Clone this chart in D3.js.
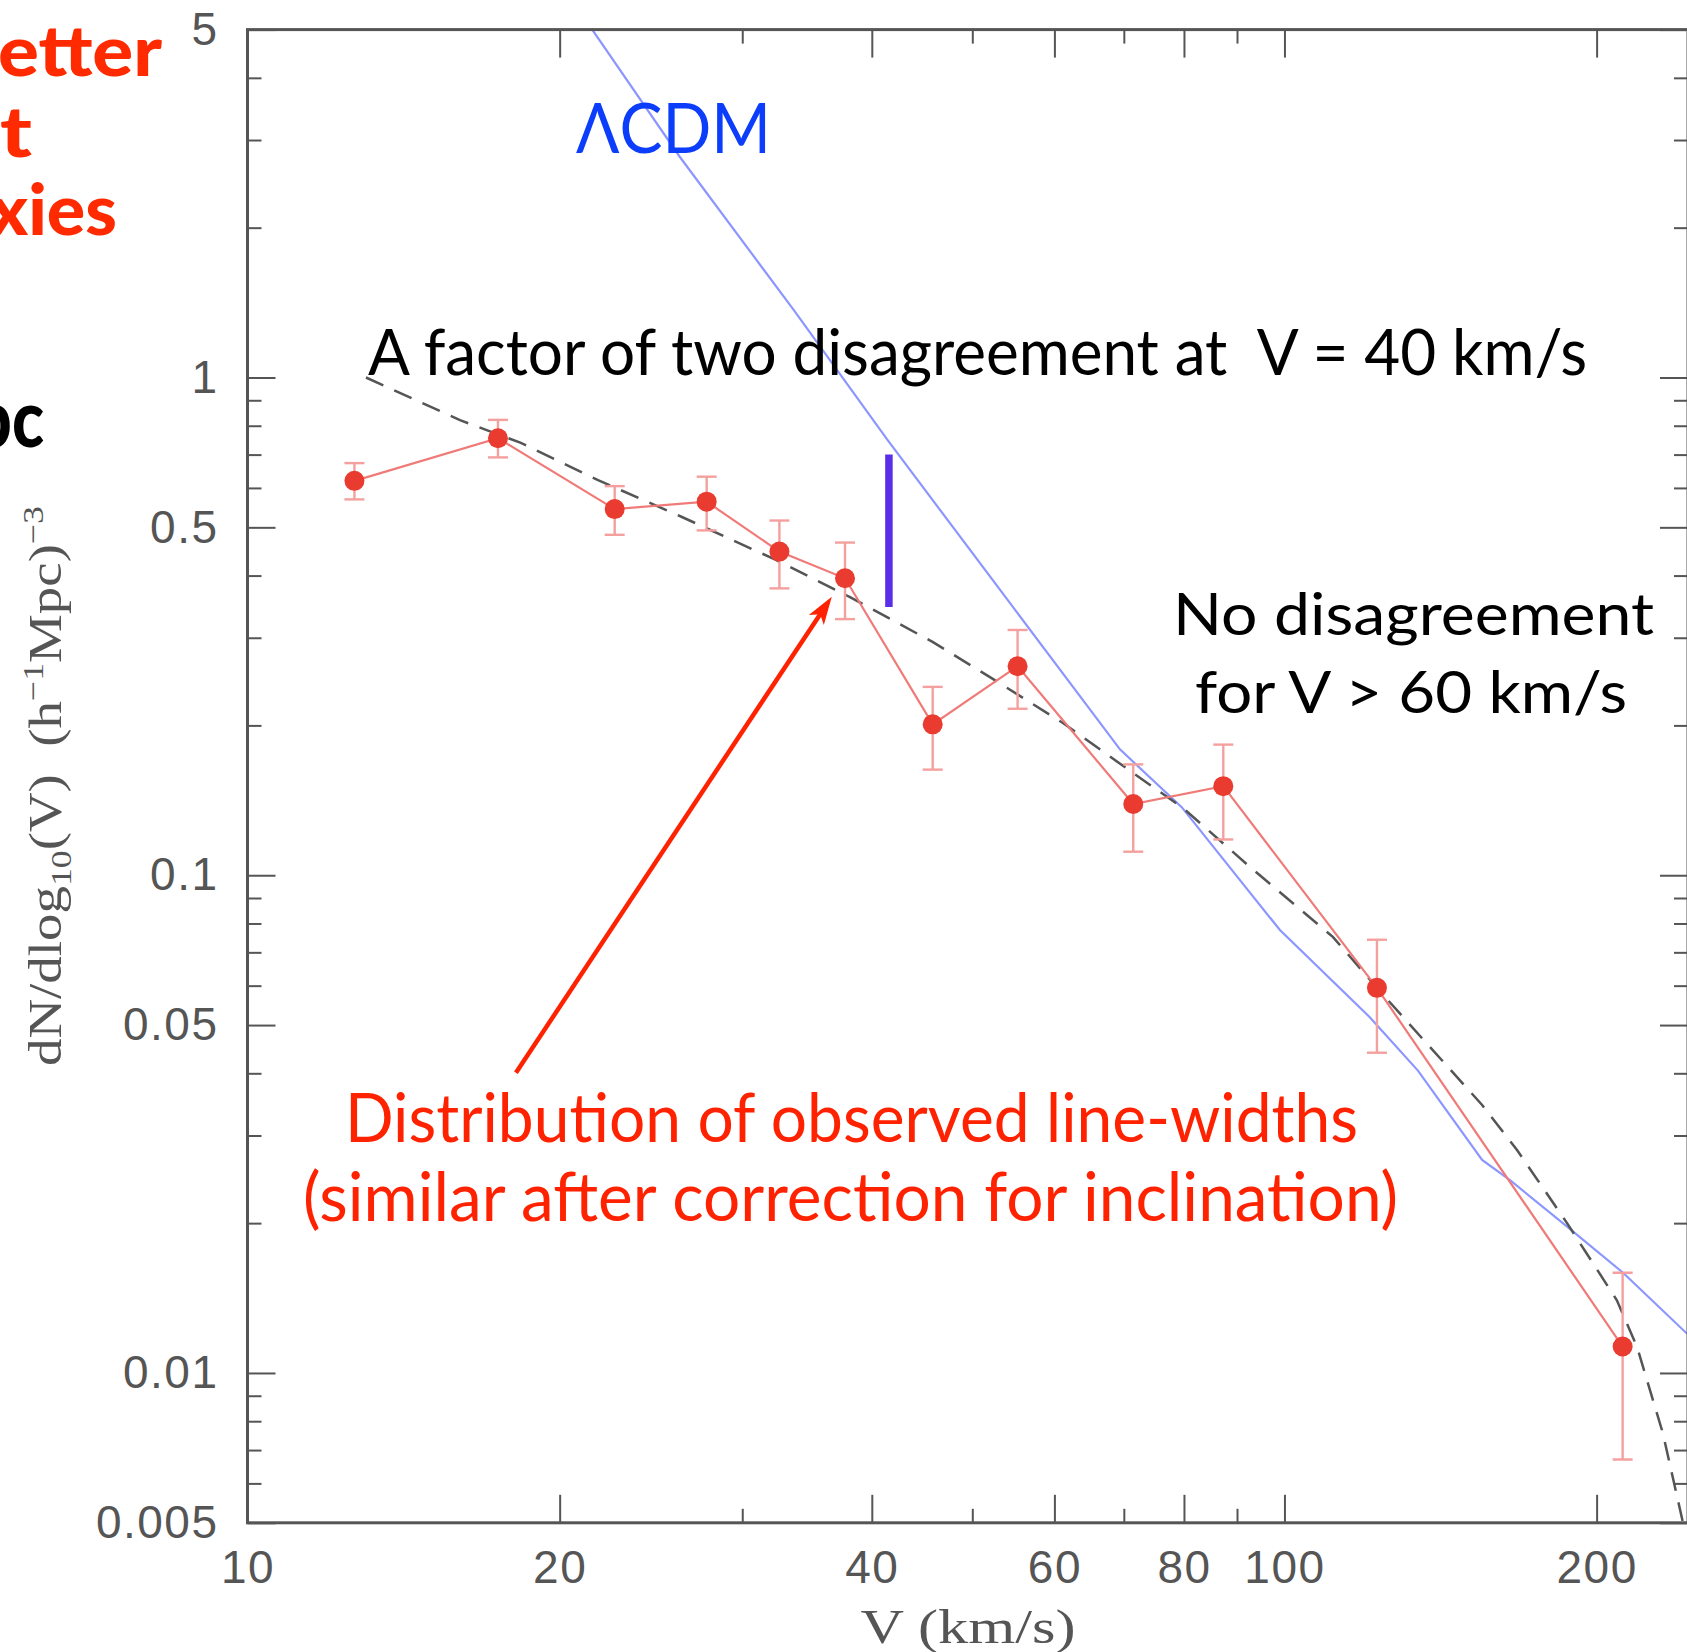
<!DOCTYPE html>
<html><head><meta charset="utf-8">
<script src="https://cdn.jsdelivr.net/npm/d3@7"></script>
<style>
html,body{margin:0;padding:0;background:#fff;overflow:hidden}
svg{display:block}
</style></head><body>
<svg id="c" width="1687" height="1652"></svg>
<script>
// ---- data ----
const vObs = [12.68, 17.44, 22.60, 27.72, 32.58, 37.69, 45.79, 55.29, 71.48, 87.30, 122.8, 211.9];
const nObs = [0.620, 0.755, 0.544, 0.563, 0.447, 0.395, 0.201, 0.263, 0.139, 0.151, 0.0594, 0.0113];
const nHi  = [0.673, 0.822, 0.605, 0.632, 0.516, 0.466, 0.239, 0.311, 0.167, 0.183, 0.0742, 0.0159];
const nLo  = [0.569, 0.691, 0.483, 0.493, 0.377, 0.327, 0.163, 0.216, 0.1115, 0.118, 0.044, 0.0067];

const vLCDM = [21.5, 26.1, 33.6, 41.4, 54.6, 69.4, 79.6, 99.0, 120.8, 134.5, 155.1, 165.0, 187.2, 212.1, 244.4];
const nLCDM = [5.0, 2.78, 1.37, 0.75, 0.348, 0.179, 0.137, 0.0776, 0.0519, 0.0405, 0.0268, 0.0244, 0.0197, 0.0159, 0.0120];

const vFit = [13.01, 16.03, 18.35, 21.78, 26.24, 32.33, 38.11, 45.82, 52.0, 61.15, 71.44, 79.82, 92.63, 111.4, 122.8, 138.1, 155.1, 167.6, 187.3, 209.2, 218.8, 231.7, 242.3];
const nFit = [1.00, 0.821, 0.739, 0.622, 0.5245, 0.430, 0.362, 0.294, 0.250, 0.2022, 0.1605, 0.1365, 0.1039, 0.0751, 0.0594, 0.0452, 0.03455, 0.02805, 0.0200, 0.0140, 0.01128, 0.00757, 0.005];

const barV = 41.55, barLo = 0.346, barHi = 0.70;   // "factor of two" marker
const arrowTail = [18.15, 0.0401], arrowTip = [36.6, 0.3628];

const xMajor = [10, 20, 40, 60, 80, 100, 200];
const xMinor = [30, 50, 70, 90];
const yMajor = [5, 1, 0.5, 0.1, 0.05, 0.01, 0.005];
const yMinor = [4, 3, 2, 0.9, 0.8, 0.7, 0.6, 0.4, 0.3, 0.2, 0.09, 0.08, 0.07, 0.06, 0.04, 0.03, 0.02, 0.009, 0.008, 0.007, 0.006];

// ---- drawing ----
const svg = d3.select('#c');
const x = d3.scaleLog().domain([10, 245]).range([247.5, 1688]);
const y = d3.scaleLog().domain([0.005, 5]).range([1522.8, 29.6]);
const X0 = x.range()[0], X1 = x.range()[1], Y0 = y.range()[1], Y1 = y.range()[0];
const AX = '#555';
const tickFont = "'Liberation Sans', Arial, sans-serif";
const serif = "'Liberation Serif', 'Times New Roman', serif";
const sans = "Lato, 'Noto Sans', sans-serif";

function styleAxis(g){
  g.select('.domain').remove();
  g.selectAll('.tick line').attr('stroke', AX).attr('stroke-width', 2);
  g.selectAll('.tick text').attr('fill', '#555').attr('font-family', tickFont).attr('font-size', 46)
    .attr('letter-spacing', 1.5);
}
const fmt = d3.format('~g');
// bottom
svg.append('g').attr('transform', `translate(0,${Y1})`)
  .call(d3.axisBottom(x).tickValues(xMajor).tickFormat(fmt).tickSize(-28).tickSizeOuter(0).tickPadding(28)).call(styleAxis);
svg.append('g').attr('transform', `translate(0,${Y1})`)
  .call(d3.axisBottom(x).tickValues(xMinor).tickFormat('').tickSize(-14).tickSizeOuter(0)).call(styleAxis);
// top
svg.append('g').attr('transform', `translate(0,${Y0})`)
  .call(d3.axisTop(x).tickValues(xMajor).tickFormat('').tickSize(-28).tickSizeOuter(0)).call(styleAxis);
svg.append('g').attr('transform', `translate(0,${Y0})`)
  .call(d3.axisTop(x).tickValues(xMinor).tickFormat('').tickSize(-14).tickSizeOuter(0)).call(styleAxis);
// left
svg.append('g').attr('transform', `translate(${X0},0)`)
  .call(d3.axisLeft(y).tickValues(yMajor).tickFormat(fmt).tickSize(-28).tickSizeOuter(0).tickPadding(29)).call(styleAxis);
svg.append('g').attr('transform', `translate(${X0},0)`)
  .call(d3.axisLeft(y).tickValues(yMinor).tickFormat('').tickSize(-14).tickSizeOuter(0)).call(styleAxis);
// right
svg.append('g').attr('transform', `translate(${X1},0)`)
  .call(d3.axisRight(y).tickValues(yMajor).tickFormat('').tickSize(-28).tickSizeOuter(0)).call(styleAxis);
svg.append('g').attr('transform', `translate(${X1},0)`)
  .call(d3.axisRight(y).tickValues(yMinor).tickFormat('').tickSize(-14).tickSizeOuter(0)).call(styleAxis);

// clip
svg.append('clipPath').attr('id', 'plot').append('rect')
  .attr('x', X0).attr('y', Y0).attr('width', X1 - X0).attr('height', Y1 - Y0);
const plot = svg.append('g').attr('clip-path', 'url(#plot)');
const line = d3.line().x(d => x(d[0])).y(d => y(d[1]));

// LCDM curve
plot.append('path').datum(d3.zip(vLCDM, nLCDM)).attr('d', line)
  .attr('fill', 'none').attr('stroke', '#8c96ff').attr('stroke-width', 2.2);
// dashed fit
plot.append('path').datum(d3.zip(vFit, nFit)).attr('d', line)
  .attr('fill', 'none').attr('stroke', '#555').attr('stroke-width', 2.5).attr('stroke-dasharray', '19,12');

// observed
const obs = vObs.map((v, i) => ({v, n: nObs[i], hi: nHi[i], lo: nLo[i]}));
plot.append('path').datum(obs.map(d => [d.v, d.n])).attr('d', line)
  .attr('fill', 'none').attr('stroke', '#f07a78').attr('stroke-width', 2.2);
const eb = plot.append('g').attr('stroke', '#f4a09e').attr('stroke-width', 2.4);
obs.forEach(d => {
  const cx = x(d.v);
  eb.append('line').attr('x1', cx).attr('x2', cx).attr('y1', y(d.hi)).attr('y2', y(d.lo));
  eb.append('line').attr('x1', cx - 10).attr('x2', cx + 10).attr('y1', y(d.hi)).attr('y2', y(d.hi));
  eb.append('line').attr('x1', cx - 10).attr('x2', cx + 10).attr('y1', y(d.lo)).attr('y2', y(d.lo));
});
plot.append('g').selectAll('circle').data(obs).join('circle')
  .attr('cx', d => x(d.v)).attr('cy', d => y(d.n)).attr('r', 10).attr('fill', '#e93b30');

// frame
svg.append('rect').attr('x', X0).attr('y', Y0).attr('width', X1 - X0).attr('height', Y1 - Y0)
  .attr('fill', 'none').attr('stroke', AX).attr('stroke-width', 3);

// purple marker bar
svg.append('line').attr('x1', x(barV)).attr('x2', x(barV)).attr('y1', y(barHi)).attr('y2', y(barLo))
  .attr('stroke', '#5a2ee8').attr('stroke-width', 7.5);

// red arrow
(function(){
  const tx = x(arrowTail[0]), ty = y(arrowTail[1]);
  const hx = x(arrowTip[0]), hy = y(arrowTip[1]);
  const dx = hx - tx, dy = hy - ty, L = Math.hypot(dx, dy), ux = dx / L, uy = dy / L;
  const hl = 28, hw = 9;
  const bx = hx - ux * hl, by = hy - uy * hl;
  svg.append('line').attr('x1', tx).attr('y1', ty).attr('x2', hx - ux * 18).attr('y2', hy - uy * 18)
    .attr('stroke', '#ff2200').attr('stroke-width', 4.5);
  const nx = -uy, ny = ux;
  svg.append('path')
    .attr('d', `M${hx},${hy} L${bx + nx * hw},${by + ny * hw} L${bx + ux * 7},${by + uy * 7} L${bx - nx * hw},${by - ny * hw} Z`)
    .attr('fill', '#ff2200');
})();

// axis titles
svg.append('text').attr('x', 968).attr('y', 1643).attr('text-anchor', 'middle')
  .attr('font-family', serif).attr('font-size', 48).attr('fill', '#555')
  .attr('textLength', 215).attr('lengthAdjust', 'spacingAndGlyphs').text('V (km/s)');

const yt = svg.append('text').attr('transform', 'translate(61,786) rotate(-90)').attr('text-anchor', 'middle')
  .attr('font-family', serif).attr('font-size', 46).attr('fill', '#555').style('white-space', 'pre')
  .attr('textLength', 560).attr('lengthAdjust', 'spacingAndGlyphs');
yt.append('tspan').text('dN/dlog');
yt.append('tspan').attr('font-size', 30).attr('dy', 10).text('10');
yt.append('tspan').attr('dy', -10).text('(V)  (h');
yt.append('tspan').attr('font-size', 30).attr('dy', -18).text('−1');
yt.append('tspan').attr('dy', 18).text('Mpc)');
yt.append('tspan').attr('font-size', 30).attr('dy', -18).text('−3');

// annotations
function label(txt, x0, yb, size, len, color, weight){
  return svg.append('text').attr('x', x0).attr('y', yb).attr('font-family', sans)
    .attr('font-size', size).attr('fill', color).attr('font-weight', weight || 400)
    .style('white-space', 'pre')
    .attr('textLength', len).attr('lengthAdjust', 'spacingAndGlyphs').text(txt);
}
label('ΛCDM', 576, 153, 69, 195, '#0b3dfb');
label('A factor of two disagreement at  V = 40 km/s', 368, 375, 63, 1219, '#000');
label('No disagreement', 1173, 635, 59, 481, '#000');
label('for V > 60 km/s', 1195, 713, 59, 432, '#000');
label('Distribution of observed line-widths', 345, 1142, 67, 1013, '#ff2200');
label('(similar after correction for inclination)', 303, 1221, 67, 1095, '#ff2200');

// cut-off slide heading fragments at the left edge
function frag(txt, x0, yb, size, len, color){
  svg.append('text').attr('x', x0).attr('y', yb).attr('font-family', sans)
    .attr('font-size', size).attr('font-weight', 900).attr('fill', color)
    .attr('textLength', len).attr('lengthAdjust', 'spacingAndGlyphs').text(txt);
}
frag('etter', -2, 76, 70, 164, '#ff2a00');
frag('t', 0, 157, 70, 32, '#ff2a00');
frag('xies', -10, 235, 70, 127, '#ff2a00');
frag('pc', -26, 447, 80, 70, '#000');
</script>
</body></html>
